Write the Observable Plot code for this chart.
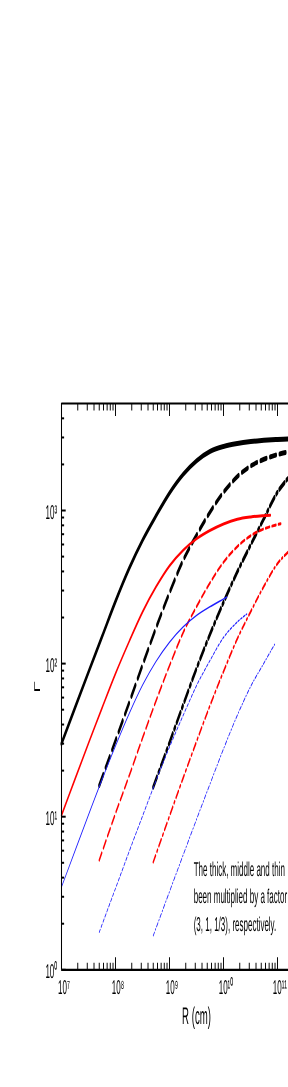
<!DOCTYPE html>
<html>
<head>
<meta charset="utf-8">
<script src="https://cdn.jsdelivr.net/npm/d3@7"></script>
<script src="https://cdn.jsdelivr.net/npm/@observablehq/plot@0.6"></script>
<style>
html, body { margin: 0; padding: 0; background: #fff; overflow: hidden; }
#chart svg { display: block; will-change: transform; }
#chart svg text { -webkit-font-smoothing: antialiased; text-rendering: geometricPrecision; }
</style>
</head>
<body>
<div id="chart"></div>
<script>
// ---- data (R in cm, Gamma) ----
const R_thickSolid = [1e7, 1.8e7, 3.2e7, 5.6e7, 1e8, 1.8e8, 3.2e8, 5.6e8, 1e9, 1.8e9, 3.2e9, 5.6e9, 1e10, 1.8e10, 3.2e10, 5.6e10, 1e11, 1.8e11];
const G_thickSolid = [30, 52, 89, 149, 255, 420, 643, 920, 1300, 1725, 2120, 2430, 2620, 2740, 2820, 2875, 2910, 2935];

const R_midSolid = [1e7, 1.8e7, 3.2e7, 5.6e7, 1e8, 1.8e8, 3.2e8, 5.6e8, 1e9, 1.8e9, 3.2e9, 5.6e9, 1e10, 1.8e10, 3.2e10, 5.6e10, 7.4e10];
const G_midSolid = [10.2, 17.8, 30.5, 51, 86, 140, 219, 316, 435, 551, 655, 740, 817, 877, 908, 925, 931];

const R_thinSolid = [1e7, 1.8e7, 3.2e7, 5.6e7, 1e8, 1.8e8, 3.2e8, 5.6e8, 1e9, 1.8e9, 3.2e9, 5.6e9, 1e10, 1.155e10];
const G_thinSolid = [3.47, 6.05, 10.4, 17.4, 29, 47.3, 72.8, 103, 138, 174, 207, 235, 264, 272];

const R_thickDash = [5e7, 1e8, 1.8e8, 3.2e8, 5.6e8, 1e9, 1.8e9, 3.2e9, 5.6e9, 1e10, 1.8e10, 3.2e10, 5.6e10, 1e11, 1.8e11];
const G_thickDash = [16, 31.4, 55.8, 98.8, 170, 290, 475, 695, 973, 1315, 1663, 1954, 2161, 2318, 2443];

const R_midDash = [5e7, 1e8, 1.8e8, 3.2e8, 5.6e8, 1e9, 1.8e9, 3.2e9, 5.6e9, 1e10, 1.8e10, 3.2e10, 5.6e10, 1.15e11];
const G_midDash = [5.2, 10.5, 18.6, 33, 56.8, 96.8, 160, 237, 336, 459, 581, 685, 759, 820];

const R_thinDash = [5e7, 1e8, 1.8e8, 3.2e8, 5.6e8, 1e9, 1.8e9, 3.2e9, 5.6e9, 1e10, 1.8e10, 2.71e10];
const G_thinDash = [1.76, 3.4, 5.95, 10.2, 17.1, 28.5, 46.1, 72.3, 104.5, 148, 187, 211];

const R_thickDashDot = [5e8, 1e9, 1.8e9, 3.2e9, 5.6e9, 1e10, 1.8e10, 3.2e10, 5.6e10, 1e11, 1.8e11];
const G_thickDashDot = [15.6, 30.5, 54, 93.8, 155, 251, 397, 598, 885, 1318, 1718];

const R_midDashDot = [5e8, 1e9, 1.8e9, 3.2e9, 5.6e9, 1e10, 1.8e10, 3.2e10, 5.6e10, 1e11, 1.8e11];
const G_midDashDot = [5.05, 10.1, 18, 31.3, 53, 88.7, 145, 219, 320, 450, 560];

const R_thinDashDot = [5e8, 1e9, 1.8e9, 3.2e9, 5.6e9, 1e10, 1.8e10, 3.2e10, 5.6e10, 9e10];
const G_thinDashDot = [1.67, 3.24, 5.65, 9.7, 16.3, 27.7, 45.9, 71.1, 100.7, 135];

// ---- axes ----
const xDomain = [1e7, 1e12];
const yDomain = [1, 5000];
const xMajor = [1e7, 1e8, 1e9, 1e10, 1e11];
const xLabels = ["10\u2077", "10\u2078", "10\u2079", "10\u00b9\u2070", "10\u00b9\u00b9"];
const yMajor = [1, 10, 100, 1000];
const yLabels = ["10\u2070", "10\u00b9", "10\u00b2", "10\u00b3"];
const xTitle = "R (cm)";
const yTitle = "\u0393";
const noteLines = ["The thick, middle and thin", "been multiplied by a factor", "(3, 1, 1/3), respectively."];

const xMinor = [];
for (let e = 7; e < 11; e++) for (let m = 2; m <= 9; m++) xMinor.push(m * 10 ** e);
xMinor.push(2e11);
const yMinor = [];
for (let e = 0; e < 4; e++) for (let m = 2; m <= 9; m++) if (m * 10 ** e < yDomain[1]) yMinor.push(m * 10 ** e);

// ---- series styling ----
const table = (R, G) => R.map((r, i) => ({R: r, G: G[i]}));
const series = [
  {d: table(R_thickSolid, G_thickSolid), stroke: "#000", w: 5, dash: null},
  {d: table(R_thickDash, G_thickDash), stroke: "#000", w: 5, dash: "15,9"},
  {d: table(R_thickDashDot, G_thickDashDot), stroke: "#000", w: 5, dash: "14,6,3,6"},
  {d: table(R_midSolid, G_midSolid), stroke: "#ff0000", w: 3, dash: null},
  {d: table(R_midDash, G_midDash), stroke: "#ff0000", w: 3, dash: "10,6"},
  {d: table(R_midDashDot, G_midDashDot), stroke: "#ff0000", w: 3, dash: "9,5,2.5,5"},
  {d: table(R_thinSolid, G_thinSolid), stroke: "#1f1fff", w: 1.6, dash: null},
  {d: table(R_thinDash, G_thinDash), stroke: "#1f1fff", w: 1.6, dash: "4,3"},
  {d: table(R_thinDashDot, G_thinDashDot), stroke: "#1f1fff", w: 1.6, dash: "5,3,1.5,3"}
];

// the figure is horizontally compressed: draw wide, then squeeze
const K = 0.4;
const W = 288 / K, H = 1087;
const frameLeft = 61.3 / K, frameRight = 331.3 / K;
const frameTop = 403, frameBottom = 969.3;

const svg = Plot.plot({
  width: W,
  height: H,
  marginLeft: frameLeft,
  marginRight: 0,
  marginTop: frameTop,
  marginBottom: H - frameBottom,
  style: {fontFamily: "'Liberation Sans', Arial, sans-serif", background: "#fff", color: "#000"},
  x: {type: "log", domain: xDomain, range: [frameLeft, frameRight], axis: null},
  y: {type: "log", domain: yDomain, axis: null},
  marks: [
    ...series.map(s => Plot.line(s.d, {
      x: "R", y: "G", stroke: s.stroke, strokeWidth: s.w,
      strokeDasharray: s.dash, curve: "catmull-rom"
    })),
    // frame lines
    Plot.ruleY([yDomain[1]], {stroke: "#000", strokeWidth: 2.2}),
    Plot.ruleY([yDomain[0]], {stroke: "#000", strokeWidth: 2.2}),
    Plot.ruleX([xDomain[0]], {stroke: "#000", strokeWidth: 2.6}),
    // inward ticks
    Plot.axisX(xMinor, {anchor: "top", tickSize: -6.5, tickFormat: () => "", label: null, strokeWidth: 2.4}),
    Plot.axisX(xMajor, {anchor: "top", tickSize: -12, tickFormat: () => "", label: null, strokeWidth: 2.4}),
    Plot.axisX(xMinor, {anchor: "bottom", tickSize: -6.5, tickFormat: () => "", label: null, strokeWidth: 2.4}),
    Plot.axisX(xMajor, {anchor: "bottom", tickSize: -12, tickFormat: () => "", label: null, strokeWidth: 2.4}),
    Plot.axisY(yMinor, {anchor: "left", tickSize: -7, tickFormat: () => "", label: null, strokeWidth: 2}),
    Plot.axisY(yMajor, {anchor: "left", tickSize: -11, tickFormat: () => "", label: null, strokeWidth: 2}),
    // tick labels
    Plot.text(xMajor, {x: d => d, text: (d, i) => xLabels[i], frameAnchor: "bottom", dy: 24, dx: 6, fontSize: 20, fill: "#000"}),
    Plot.text(yMajor, {y: d => d, text: (d, i) => yLabels[i], frameAnchor: "left", textAnchor: "end", dx: -11, dy: 2, fontSize: 20, fill: "#000"}),
    // axis titles
    Plot.text([xTitle], {x: Math.sqrt(xDomain[0] * xDomain[1]), text: d => d, frameAnchor: "bottom", lineAnchor: "bottom", dy: 54, fontSize: 24, fill: "#000"}),
    Plot.text([yTitle], {text: d => d, frameAnchor: "left", rotate: -90, dx: -61.5, dy: 6, fontSize: 21, fill: "#000"}),
    // annotation
    Plot.text([noteLines.join("\n")], {text: d => d, frameAnchor: "bottom-left", textAnchor: "start", lineAnchor: "bottom", lineHeight: 1.375, dx: (193.5 - 61.3) / K, dy: -(frameBottom - 930), fontSize: 20, fill: "#000"})
  ]
});

svg.setAttribute("width", 288);
svg.setAttribute("height", H);
svg.setAttribute("preserveAspectRatio", "none");
svg.style.width = "288px";
svg.style.height = H + "px";
svg.style.maxWidth = "none";
document.getElementById("chart").appendChild(svg);
</script>
</body>
</html>
